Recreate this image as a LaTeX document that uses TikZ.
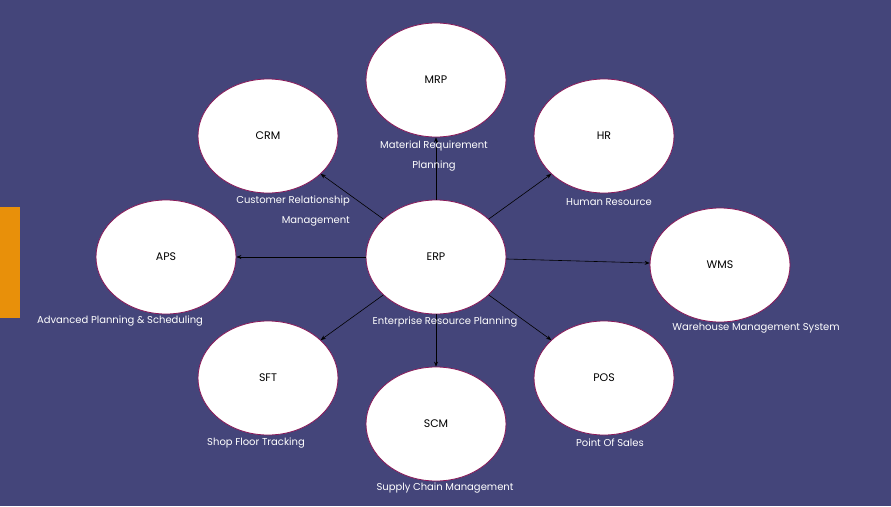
\documentclass[tikz,border=0pt]{standalone}
\usepackage{fontspec}
\setmainfont{Poppins}
\usetikzlibrary{arrows.meta,shapes.geometric}
\definecolor{bg}{HTML}{44457A}
\definecolor{edge}{HTML}{8B1A5A}
\definecolor{orng}{HTML}{E8900A}
\tikzset{
  mod/.style={ellipse,draw=edge,line width=0.8pt,fill=white,minimum width=140pt,minimum height=114pt,inner sep=0pt,font=\fontsize{11}{13}\selectfont},
  lbl/.style={text=white,font=\fontsize{10}{20}\selectfont,inner sep=0pt},
  conn/.style={-{Stealth[length=5pt,width=4pt]},line width=0.6pt,black}
}
\begin{document}
\begin{tikzpicture}[x=1pt,y=-1pt]
\fill[bg] (0,0) rectangle (891,506);
\useasboundingbox (0,0) rectangle (891,506);
\fill[orng] (0,207) rectangle (20,318);
\node[mod] (mrp) at (436,80) {MRP};
\node[mod] (crm) at (268,136) {CRM};
\node[mod] (hr) at (604,136) {HR};
\node[mod] (aps) at (166,257) {APS};
\node[mod] (erp) at (436,257) {ERP};
\node[mod] (wms) at (720,265) {WMS};
\node[mod] (sft) at (268,378) {SFT};
\node[mod] (scm) at (436,424) {SCM};
\node[mod] (pos) at (604,378) {POS};
\foreach \t in {mrp,crm,hr,aps,wms,sft,scm,pos}
  \draw[conn] (erp) -- (\t);
\node[lbl,align=center] (lmrp) at (434,156) {Material Requirement\\Planning};
\node[lbl,align=right,anchor=east] (lcrm) at (350,211) {Customer Relationship\\Management};
\node[lbl] (lhr) at (609,202) {Human Resource};
\node[lbl] (laps) at (120,321) {Advanced Planning \& Scheduling};
\node[lbl] (lerp) at (445,322) {Enterprise Resource Planning};
\node[lbl] (lwms) at (756,328) {Warehouse Management System};
\node[lbl] (lsft) at (256,443) {Shop Floor Tracking};
\node[lbl] (lscm) at (445,488) {Supply Chain Management};
\node[lbl] (lpos) at (610,443) {Point Of Sales};
\end{tikzpicture}
\end{document}
